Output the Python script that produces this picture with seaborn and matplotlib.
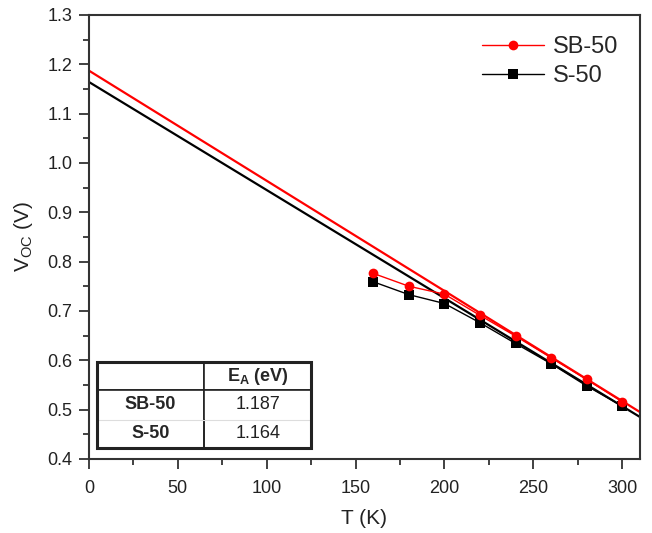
import pandas as pd
import numpy as np
import matplotlib.pyplot as plt
import seaborn as sns
from matplotlib.patches import Rectangle
from matplotlib.ticker import MultipleLocator

# data
temps = [160, 180, 200, 220, 240, 260, 280, 300]
voc_sb50 = [0.776, 0.750, 0.734, 0.691, 0.649, 0.605, 0.561, 0.516]
voc_s50 = [0.759, 0.733, 0.715, 0.676, 0.634, 0.593, 0.548, 0.507]

# linear extrapolation lines (end points at T=0 and T=310)
fit_t = [0, 310]
fit_sb50 = [1.187, 0.495]
fit_s50 = [1.164, 0.485]

# table of activation energies
samples = ['SB-50', 'S-50']
ea = ['1.187', '1.164']

df = pd.DataFrame({
    'T': temps * 2,
    'Voc': voc_s50 + voc_sb50,
    'sample': ['S-50'] * len(temps) + ['SB-50'] * len(temps),
})
df_fit = pd.DataFrame({
    'T': fit_t * 2,
    'Voc': fit_s50 + fit_sb50,
    'sample': ['S-50'] * 2 + ['SB-50'] * 2,
})

sns.set_style('ticks')
plt.rcParams['font.family'] = ['Liberation Sans', 'DejaVu Sans']
plt.rcParams['mathtext.fontset'] = 'custom'
plt.rcParams['mathtext.rm'] = 'Liberation Sans'
plt.rcParams['mathtext.it'] = 'Liberation Sans:italic'
plt.rcParams['mathtext.bf'] = 'Liberation Sans:bold'

colors = {'SB-50': 'red', 'S-50': 'black'}

fig = plt.figure(figsize=(6.52, 5.33), dpi=100)
ax = fig.add_axes([0.1365, 0.139, 0.845, 0.833])

# fit lines
sns.lineplot(data=df_fit, x='T', y='Voc', hue='sample', palette=colors,
             lw=1.6, legend=False, ax=ax)
# measured data
sns.lineplot(data=df, x='T', y='Voc', hue='sample', style='sample',
             palette=colors, markers={'SB-50': 'o', 'S-50': 's'}, dashes=False,
             lw=1.0, markersize=7, markeredgewidth=0, legend=False, ax=ax)

data_lines = ax.lines[2:4]
handles = [data_lines[1], data_lines[0]]
ax.legend(handles, ['SB-50', 'S-50'], loc='upper right', frameon=False,
          fontsize=17, handlelength=2.6, handletextpad=0.4, labelspacing=0.3,
          bbox_to_anchor=(1.0, 1.0))

ax.set_xlim(0, 310)
ax.set_ylim(0.4, 1.3)
ax.xaxis.set_major_locator(MultipleLocator(50))
ax.xaxis.set_minor_locator(MultipleLocator(25))
ax.yaxis.set_major_locator(MultipleLocator(0.1))
ax.yaxis.set_minor_locator(MultipleLocator(0.05))
ax.tick_params(which='major', direction='out', length=7, width=1.3,
               labelsize=13, color='#333333', labelcolor='#222222')
ax.tick_params(which='minor', direction='out', length=4, width=1.3,
               color='#333333')
ax.tick_params(axis='x', which='major', pad=8)
ax.tick_params(axis='y', which='major', pad=5)
for s in ax.spines.values():
    s.set_linewidth(1.5)
    s.set_color('#333333')

ax.set_xlabel('T (K)', fontsize=15, color='#222222', labelpad=9)
ax.set_ylabel(r'V$_\mathrm{OC}$ (V)', fontsize=15, color='#222222', labelpad=9)

# table in the lower left
cell_text = [['', r'E$_\mathbf{A}$ (eV)']] + [[s, e] for s, e in zip(samples, ea)]
tb = ax.table(cellText=cell_text, cellLoc='center',
              bbox=[0.0145, 0.025, 0.389, 0.194], zorder=5)
tb.auto_set_font_size(False)
for (r, c), cell in tb.get_celld().items():
    cell.set_fontsize(13)
    cell.set_linewidth(1.2)
    cell.set_edgecolor('#222222')
    if r == 0 or c == 0:
        cell.get_text().set_fontweight('bold')
    if c == 1 and r > 0:
        cell.get_text().set_color('#222222')
    if r == 1:
        cell.visible_edges = 'LRT'
    if r == 2:
        cell.visible_edges = 'LRB'
ax.plot([0.0145, 0.4035], [0.0875, 0.0875], transform=ax.transAxes,
        color='#dddddd', lw=0.8, zorder=6)
ax.add_patch(Rectangle((0.0145, 0.025), 0.389, 0.194, transform=ax.transAxes,
                       fill=False, lw=2.2, edgecolor='#222222', zorder=7))

fig.savefig('out.png', dpi=100)
